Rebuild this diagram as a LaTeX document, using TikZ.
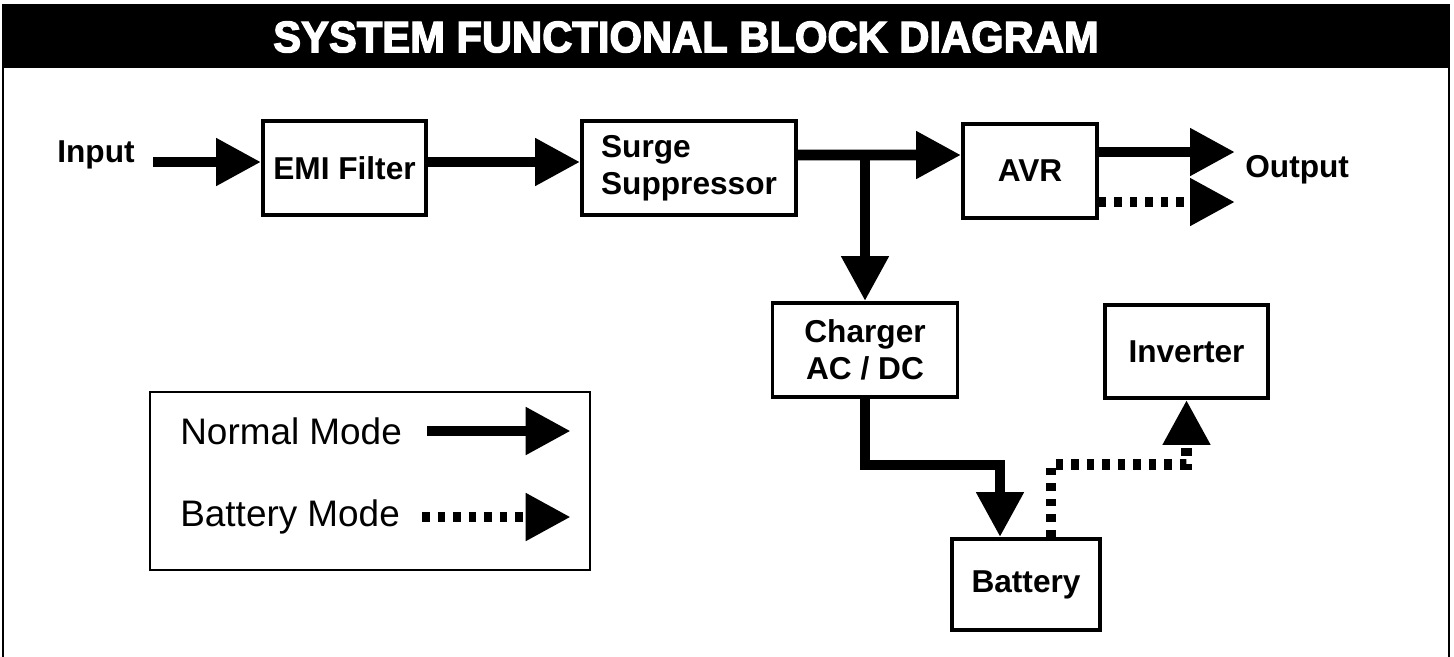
\documentclass[tikz,border=0pt]{standalone}
\usepackage{fontspec}
\setmainfont{Liberation Sans}
\newfontfamily\titlefont[FakeBold=3, FakeStretch=0.95]{Liberation Sans Bold}
\usetikzlibrary{arrows.meta}

\begin{document}
\begin{tikzpicture}[
    block/.style = {draw, line width=2.2pt, align=center, inner sep=0pt,
                    font=\fontsize{18}{21}\selectfont\bfseries},
    normal/.style = {line width=6.2pt, -{Triangle[length=0.9cm, width=0.9cm]}},
    batmode/.style = {normal, dash pattern=on 0.15cm off 0.16cm},
    label/.style = {font=\fontsize{18}{21}\selectfont\bfseries, inner sep=0pt}
]
                        \useasboundingbox (0,0) rectangle (29.08,-13.12);
                        % frame and title bar
                        \draw[line width=1.3pt] (0.06,-13.2) -- (0.06,-0.1) -- (28.98,-0.1) -- (28.98,-13.2);
                        \fill (0.06,-0.1) rectangle (28.98,-1.36);
                        \node[text=white, font=\fontsize{25}{29}\titlefont] (title) at (13.72,-0.74) {SYSTEM FUNCTIONAL BLOCK DIAGRAM};

                        % blocks
                        \node[block, minimum width=3.26cm, minimum height=1.88cm] (emi) at (6.89,-3.36) {EMI Filter};
                        \node[block, minimum width=4.28cm, minimum height=1.88cm, align=left] (surge) at (13.78,-3.36) {Surge\\Suppressor};
                        \node[block, minimum width=2.68cm, minimum height=1.88cm] (avr) at (20.6,-3.42) {AVR};
                        \node[block, minimum width=3.7cm, minimum height=1.88cm] (charger) at (17.3,-7.0) {Charger\\AC / DC};
                        \node[block, minimum width=3.26cm, minimum height=1.86cm] (inverter) at (23.73,-7.03) {Inverter};
                        \node[block, minimum width=2.96cm, minimum height=1.82cm] (battery) at (20.52,-11.69) {Battery};

                        \node[label, anchor=east] (input) at (2.7,-3.1) {Input};
                        \node[label, anchor=west] (output) at (24.9,-3.4) {Output};
                        \coordinate (outn) at (24.7,-3.04);
                        \coordinate (outb) at (24.7,-4.04);

                        % normal mode
                        \draw[normal] ([xshift=0.36cm, yshift=-0.14cm]input.east) -- ([yshift=0.12cm]emi.west);
                        \draw[normal] ([yshift=0.12cm]emi.east) -- ([yshift=0.12cm]surge.west);
                        \draw[normal] ([yshift=0.26cm]surge.east) -- ([yshift=0.32cm]avr.west);
                        \draw[normal] ([yshift=0.26cm]surge.east -| charger.north) -- (charger.north);
                        \draw[normal] ([yshift=0.38cm]avr.east) -- (outn);
                        \draw[normal] (charger.south) -- ++(0,-1.32) -| ([xshift=-0.52cm]battery.north);

                        % battery mode
                        \draw[batmode] ([yshift=-0.62cm]avr.east) -- (outb);
                        \draw[batmode] ([xshift=0.5cm]battery.north) -- ++(0,1.46) -| (inverter.south);

                        % legend
                        \node[draw, line width=0.8pt, minimum width=8.8cm, minimum height=3.56cm] (legend) at (7.4,-9.62) {};
                        \node[anchor=west, font=\fontsize{21}{25}\selectfont, inner sep=0pt] (nm) at (3.6,-8.62) {Normal Mode};
                        \node[anchor=west, font=\fontsize{21}{25}\selectfont, inner sep=0pt] (bm) at (3.6,-10.34) {Battery Mode};
                        \draw[normal] ([xshift=0.5cm]nm.east) -- ([xshift=-0.4cm]nm.east -| legend.east);
                        \draw[batmode] ([xshift=0.44cm]bm.east) -- ([xshift=-0.4cm]bm.east -| legend.east);
\end{tikzpicture}
\end{document}
